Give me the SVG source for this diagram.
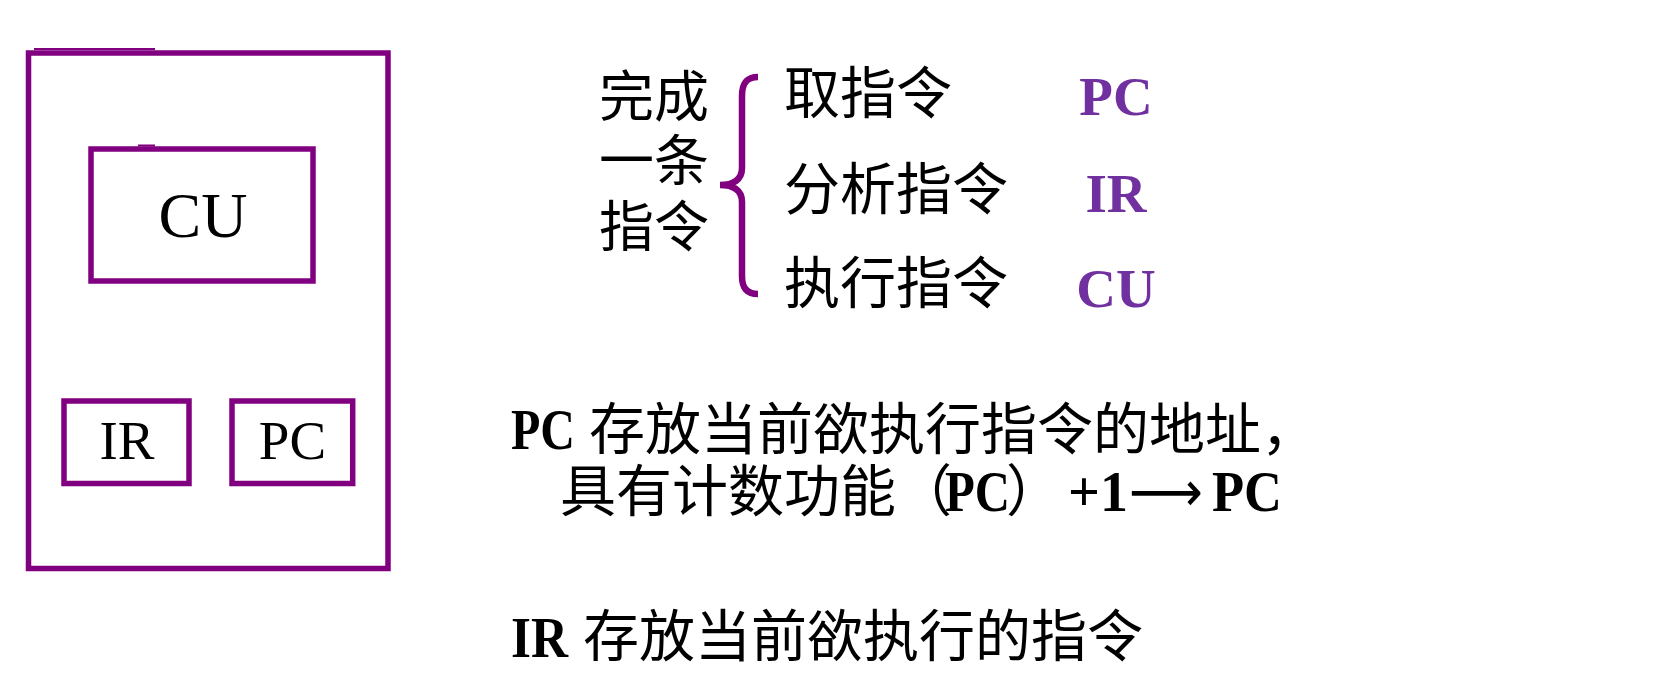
<svg xmlns="http://www.w3.org/2000/svg" width="1665" height="686" viewBox="0 0 1665 686">
  <style>
    .box { fill: none; stroke: #800080; stroke-width: 5.5; }
    .reg { font-family: "Liberation Serif", "Times New Roman", serif; font-size: 55px; fill: #000; text-anchor: middle; }
    .cjk { font-family: "Noto Sans CJK SC", "Noto Sans", sans-serif; fill: #000; }
    .lat { font-family: "Liberation Serif", "Times New Roman", serif; font-weight: bold; fill: #000; font-size: 56px; }
    .pur { font-family: "Liberation Serif", "Times New Roman", serif; font-weight: bold; fill: #7030A0; font-size: 55px; text-anchor: middle; }
  </style>
  <rect width="1665" height="686" fill="#ffffff"/>

  <g id="cpu">
    <rect class="box" x="28.5" y="53" width="359.5" height="515.5"/>
    <rect x="34" y="48" width="121" height="2" fill="#800080"/>
  </g>
  <g id="cu">
    <rect class="box" x="91" y="149" width="222" height="132"/>
    <rect x="138" y="144.5" width="17" height="2" fill="#800080"/>
    <text class="reg" x="203" y="237" style="font-size:64px">CU</text>
  </g>
  <g id="ir">
    <rect class="box" x="64" y="401" width="125" height="82.5"/>
    <text class="reg" x="127" y="459">IR</text>
  </g>
  <g id="pc">
    <rect class="box" x="232" y="401" width="120.7" height="82.5"/>
    <text class="reg" x="292.5" y="459">PC</text>
  </g>

  <g id="steps">
    <text class="cjk" x="599" y="116" font-size="55">完成</text>
    <text class="cjk" x="599" y="180" font-size="55">一条</text>
    <text class="cjk" x="599" y="246" font-size="55">指令</text>
    <text class="cjk" x="784" y="113" font-size="56">取指令</text>
    <text class="cjk" x="784" y="209" font-size="56">分析指令</text>
    <text class="cjk" x="784" y="303" font-size="56">执行指令</text>
    <text class="pur" x="1116" y="115">PC</text>
    <text class="pur" x="1116" y="212">IR</text>
    <text class="pur" x="1116" y="307">CU</text>
  </g>

  <g id="connectors">
    <path d="M 758 77 C 746 77, 742 84, 742 96 L 742 168 C 742 180, 733 185, 720 185 C 733 185, 742 190, 742 202 L 742 276 C 742 287, 746 294, 758 294" fill="none" stroke="#800080" stroke-width="6.5"/>
  </g>

  <g id="notes">
    <text class="lat" x="511" y="449" textLength="64" lengthAdjust="spacingAndGlyphs">PC</text>
    <text class="cjk" x="589" y="449" font-size="56">存放当前欲执行指令的地址，</text>

    <text class="cjk" x="560" y="511" font-size="56">具有计数功能（</text>
    <text class="lat" x="945" y="511" textLength="65" lengthAdjust="spacingAndGlyphs">PC</text>
    <text class="cjk" x="1006" y="511" font-size="56">）</text>
    <text class="lat" x="1068" y="511">+1</text>
    <text x="1129" y="511" font-family="DejaVu Sans, sans-serif" font-size="56" textLength="74" lengthAdjust="spacingAndGlyphs">⟶</text>
    <text class="lat" x="1212" y="511" textLength="70" lengthAdjust="spacingAndGlyphs">PC</text>

    <text class="lat" x="511" y="657" textLength="57" lengthAdjust="spacingAndGlyphs">IR</text>
    <text class="cjk" x="583" y="656" font-size="56">存放当前欲执行的指令</text>
  </g>
</svg>
